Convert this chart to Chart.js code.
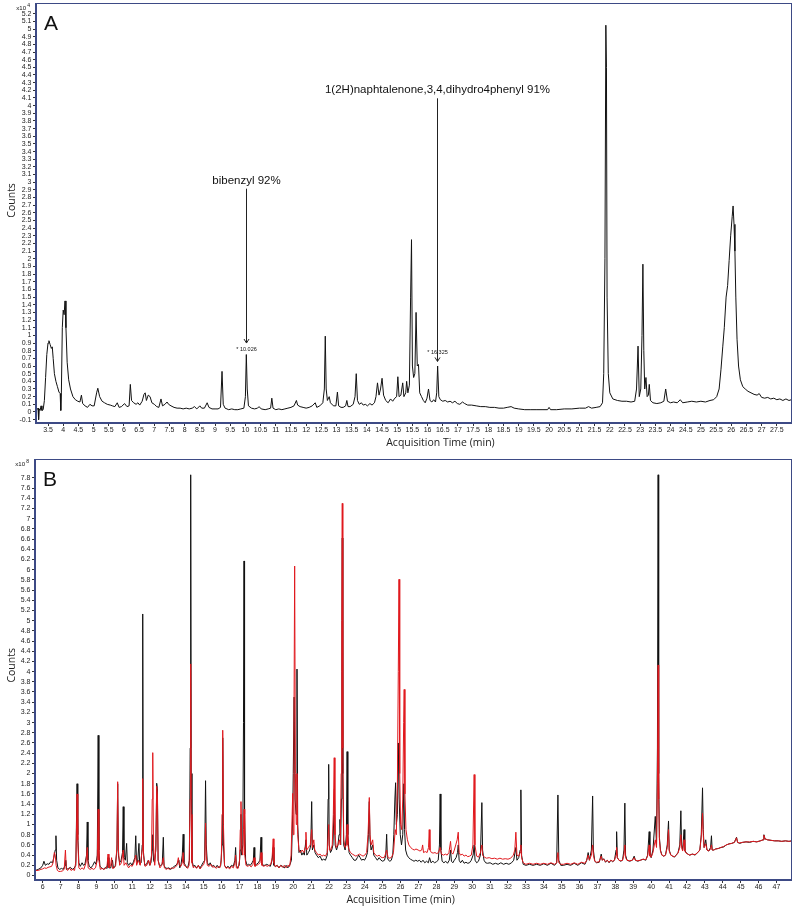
<!DOCTYPE html>
<html>
<head>
<meta charset="utf-8">
<title>GC-MS chromatograms A and B</title>
<script src="https://cdn.jsdelivr.net/npm/chart.js@4.4.0/dist/chart.umd.min.js"></script>
<style>
  html, body { margin: 0; padding: 0; background: #fff; }
  #wrap { position: relative; width: 795px; height: 906px; }
  canvas { position: absolute; left: 0; }
  #chart-a { top: 0; }
  #chart-b { top: 452px; }
</style>
</head>
<body>
<div id="wrap">
  <canvas id="chart-a" width="795" height="452"></canvas>
  <canvas id="chart-b" width="795" height="454"></canvas>
</div>
<script>
// ** Data (counts in units of the axis multiplier, time in min)

// panel A: single trace, x10^4 counts
const traceA = [
  [3.14,0.03],[3.17,0.05],[3.19,-0.1],[3.21,0.04],[3.24,0.02],[3.27,0.08],[3.3,0.02],[3.34,0.03],
  [3.38,0.15],[3.42,0.45],[3.46,0.75],[3.5,0.9],[3.53,0.93],[3.57,0.88],[3.61,0.83],[3.64,0.85],
  [3.67,0.7],[3.71,0.5],[3.76,0.4],[3.81,0.33],[3.86,0.26],[3.9,0.24],[3.92,0.02],[3.94,0.26],
  [3.97,1.1],[4.0,1.33],[4.03,1.27],[4.06,1.45],[4.09,1.1],[4.13,0.65],[4.18,0.42],[4.24,0.3],
  [4.32,0.2],[4.4,0.16],[4.48,0.14],[4.55,0.13],[4.6,0.22],[4.64,0.11],[4.72,0.08],[4.8,0.06],
  [4.88,0.1],[4.95,0.08],[5.02,0.08],[5.1,0.25],[5.14,0.31],[5.2,0.2],[5.28,0.14],[5.36,0.12],
  [5.45,0.1],[5.55,0.09],[5.62,0.08],[5.7,0.07],[5.78,0.12],[5.84,0.06],[5.92,0.07],[6.02,0.11],
  [6.1,0.07],[6.17,0.08],[6.21,0.36],[6.25,0.15],[6.32,0.12],[6.4,0.1],[6.46,0.12],[6.52,0.09],
  [6.6,0.14],[6.66,0.23],[6.7,0.25],[6.74,0.15],[6.8,0.22],[6.86,0.2],[6.92,0.12],[7.0,0.1],
  [7.08,0.07],[7.15,0.06],[7.22,0.17],[7.27,0.08],[7.35,0.1],[7.42,0.13],[7.47,0.1],[7.55,0.08],
  [7.65,0.06],[7.75,0.05],[7.85,0.05],[7.95,0.04],[8.05,0.05],[8.15,0.04],[8.25,0.05],[8.32,0.07],
  [8.4,0.04],[8.5,0.08],[8.56,0.05],[8.65,0.05],[8.74,0.12],[8.8,0.06],[8.9,0.04],[9.0,0.04],
  [9.1,0.04],[9.18,0.06],[9.23,0.53],[9.27,0.1],[9.33,0.05],[9.45,0.03],[9.55,0.04],[9.65,0.03],
  [9.75,0.03],[9.85,0.04],[9.95,0.05],[10.0,0.2],[10.03,0.75],[10.06,0.3],[10.1,0.08],[10.2,0.05],
  [10.3,0.04],[10.4,0.05],[10.45,0.07],[10.52,0.04],[10.65,0.03],[10.75,0.04],[10.83,0.05],[10.87,0.18],
  [10.91,0.05],[11.0,0.03],[11.1,0.04],[11.2,0.03],[11.3,0.04],[11.4,0.05],[11.5,0.06],[11.6,0.08],
  [11.68,0.15],[11.72,0.09],[11.8,0.07],[11.9,0.06],[12.0,0.05],[12.1,0.06],[12.2,0.08],[12.3,0.12],
  [12.35,0.06],[12.45,0.08],[12.55,0.12],[12.6,0.3],[12.63,0.99],[12.66,0.3],[12.7,0.15],[12.76,0.2],
  [12.8,0.12],[12.9,0.08],[12.98,0.08],[13.03,0.26],[13.07,0.08],[13.15,0.06],[13.22,0.06],[13.3,0.08],
  [13.34,0.15],[13.38,0.07],[13.45,0.07],[13.55,0.1],[13.61,0.2],[13.65,0.5],[13.69,0.15],[13.75,0.1],
  [13.82,0.12],[13.88,0.09],[13.95,0.1],[14.02,0.08],[14.1,0.11],[14.17,0.09],[14.25,0.12],[14.3,0.2],
  [14.35,0.38],[14.4,0.22],[14.45,0.3],[14.5,0.44],[14.55,0.22],[14.62,0.15],[14.7,0.12],[14.78,0.17],
  [14.85,0.14],[14.92,0.18],[14.98,0.2],[15.02,0.46],[15.06,0.2],[15.12,0.22],[15.18,0.38],[15.22,0.2],
  [15.28,0.25],[15.31,0.4],[15.35,0.25],[15.4,0.35],[15.44,1.5],[15.47,2.25],[15.5,0.6],[15.54,0.45],
  [15.58,0.5],[15.62,1.3],[15.66,0.6],[15.7,0.62],[15.74,0.25],[15.8,0.2],[15.86,0.15],[15.92,0.12],
  [15.98,0.18],[16.03,0.3],[16.08,0.15],[16.14,0.13],[16.2,0.16],[16.26,0.13],[16.3,0.25],[16.33,0.6],
  [16.37,0.2],[16.42,0.16],[16.5,0.14],[16.58,0.15],[16.66,0.13],[16.74,0.14],[16.82,0.12],[16.9,0.14],
  [16.98,0.11],[17.06,0.1],[17.15,0.13],[17.22,0.11],[17.32,0.09],[17.45,0.09],[17.6,0.08],[17.75,0.07],
  [17.9,0.07],[18.05,0.06],[18.2,0.06],[18.35,0.05],[18.5,0.05],[18.62,0.06],[18.75,0.07],[18.85,0.05],
  [19.0,0.04],[19.2,0.03],[19.4,0.03],[19.6,0.03],[19.8,0.03],[19.95,0.03],[20.0,0.06],[20.05,0.03],
  [20.25,0.03],[20.5,0.04],[20.75,0.04],[21.0,0.05],[21.2,0.05],[21.3,0.07],[21.4,0.05],[21.55,0.06],
  [21.68,0.07],[21.76,0.12],[21.8,0.5],[21.84,2.0],[21.87,5.05],[21.89,4.5],[21.91,1.5],[21.95,0.5],
  [22.0,0.25],[22.1,0.17],[22.25,0.15],[22.4,0.14],[22.55,0.14],[22.7,0.13],[22.82,0.14],[22.88,0.3],
  [22.93,0.86],[22.97,0.2],[23.02,0.3],[23.06,1.0],[23.09,1.93],[23.12,0.8],[23.15,0.3],[23.19,0.45],
  [23.23,0.2],[23.27,0.22],[23.3,0.36],[23.34,0.15],[23.42,0.12],[23.55,0.11],[23.68,0.12],[23.78,0.14],
  [23.84,0.3],[23.9,0.14],[24.0,0.12],[24.1,0.13],[24.22,0.12],[24.32,0.16],[24.4,0.12],[24.55,0.13],
  [24.7,0.14],[24.85,0.13],[25.0,0.14],[25.15,0.13],[25.3,0.15],[25.42,0.16],[25.52,0.2],[25.6,0.3],
  [25.66,0.55],[25.72,0.85],[25.77,1.1],[25.83,1.5],[25.88,1.65],[25.93,1.98],[25.98,2.3],[26.03,2.55],
  [26.06,2.69],[26.09,2.45],[26.12,2.1],[26.15,1.5],[26.19,0.95],[26.24,0.6],[26.3,0.42],[26.38,0.33],
  [26.46,0.3],[26.55,0.27],[26.65,0.25],[26.75,0.23],[26.85,0.22],[26.92,0.24],[27.0,0.19],[27.1,0.18],
  [27.2,0.19],[27.3,0.17],[27.4,0.18],[27.5,0.16],[27.6,0.17],[27.7,0.15],[27.8,0.17],[27.9,0.15],
  [27.98,0.16]
];

// panel B: black trace, x10^8 counts
const traceBblack = [
  [5.6,0.1],[5.75,0.12],[5.9,0.15],[6.0,0.2],[6.07,0.28],[6.15,0.2],[6.25,0.23],[6.35,0.22],
  [6.45,0.27],[6.55,0.25],[6.62,0.35],[6.7,0.5],[6.74,0.78],[6.78,0.3],[6.85,0.15],[6.95,0.12],
  [7.05,0.14],[7.15,0.12],[7.25,0.2],[7.29,0.3],[7.33,0.12],[7.45,0.14],[7.55,0.16],[7.65,0.12],
  [7.75,0.14],[7.85,0.2],[7.92,1.8],[7.96,0.8],[8.02,0.25],[8.1,0.18],[8.2,0.25],[8.28,0.2],
  [8.36,0.22],[8.45,0.4],[8.49,1.05],[8.53,0.3],[8.6,0.18],[8.7,0.15],[8.8,0.2],[8.9,0.27],
  [8.98,0.22],[9.05,0.4],[9.1,2.75],[9.14,0.5],[9.2,0.18],[9.3,0.15],[9.4,0.12],[9.5,0.16],
  [9.6,0.14],[9.65,0.35],[9.7,0.15],[9.8,0.15],[9.9,0.3],[9.95,0.15],[10.05,0.18],[10.15,0.5],
  [10.19,1.8],[10.23,0.4],[10.3,0.25],[10.38,0.3],[10.46,0.45],[10.5,1.35],[10.54,0.35],[10.62,0.3],
  [10.69,0.63],[10.73,0.25],[10.8,0.2],[10.9,0.25],[11.0,0.2],[11.08,0.28],[11.15,0.35],[11.2,0.78],
  [11.24,0.3],[11.3,0.25],[11.38,0.63],[11.42,0.22],[11.5,0.25],[11.56,0.6],[11.59,5.13],[11.62,0.5],
  [11.7,0.2],[11.8,0.22],[11.9,0.3],[11.98,0.2],[12.05,0.25],[12.12,0.5],[12.15,0.8],[12.19,0.3],
  [12.25,0.25],[12.32,0.5],[12.37,1.81],[12.41,1.7],[12.45,0.3],[12.52,0.2],[12.6,0.2],[12.68,0.22],
  [12.74,0.75],[12.78,0.2],[12.85,0.15],[12.95,0.14],[13.05,0.15],[13.15,0.12],[13.25,0.15],[13.35,0.18],
  [13.45,0.2],[13.55,0.25],[13.61,0.3],[13.66,0.15],[13.73,0.22],[13.8,0.4],[13.85,0.81],[13.89,0.25],
  [13.98,0.2],[14.05,0.15],[14.12,0.18],[14.2,0.3],[14.24,2.5],[14.27,7.86],[14.3,2.0],[14.34,0.3],
  [14.42,0.18],[14.5,0.2],[14.6,0.15],[14.7,0.2],[14.78,0.14],[14.88,0.2],[14.96,0.25],[15.05,0.3],
  [15.1,1.86],[15.14,0.6],[15.2,0.25],[15.28,0.2],[15.36,0.25],[15.45,0.18],[15.55,0.2],[15.65,0.15],
  [15.75,0.2],[15.85,0.15],[15.95,0.2],[16.02,0.6],[16.06,2.7],[16.1,0.6],[16.16,0.2],[16.25,0.15],
  [16.35,0.18],[16.45,0.15],[16.55,0.2],[16.65,0.18],[16.74,0.3],[16.78,0.55],[16.82,0.2],[16.9,0.15],
  [16.98,0.2],[17.04,0.5],[17.08,1.2],[17.12,0.4],[17.18,0.6],[17.22,3.0],[17.25,6.17],[17.28,1.2],
  [17.34,0.3],[17.42,0.2],[17.5,0.22],[17.6,0.2],[17.7,0.25],[17.77,0.3],[17.81,0.55],[17.85,0.2],
  [17.95,0.22],[18.05,0.25],[18.14,0.3],[18.2,0.75],[18.24,0.25],[18.32,0.2],[18.42,0.2],[18.52,0.22],
  [18.62,0.2],[18.72,0.18],[18.82,0.3],[18.88,0.55],[18.92,0.2],[19.0,0.18],[19.1,0.2],[19.2,0.15],
  [19.3,0.2],[19.4,0.18],[19.5,0.15],[19.6,0.2],[19.7,0.15],[19.8,0.2],[19.9,0.3],[19.97,1.2],
  [20.0,2.0],[20.05,3.5],[20.1,1.5],[20.16,1.2],[20.21,4.05],[20.25,1.0],[20.32,0.45],[20.4,0.5],
  [20.48,0.4],[20.56,0.45],[20.62,0.4],[20.71,0.7],[20.76,0.4],[20.85,0.45],[20.92,0.5],[20.98,0.6],
  [21.03,1.45],[21.07,0.5],[21.15,0.6],[21.22,0.45],[21.3,0.4],[21.4,0.35],[21.5,0.38],[21.6,0.3],
  [21.7,0.32],[21.8,0.3],[21.9,0.4],[21.95,1.5],[21.98,2.18],[22.01,0.6],[22.08,0.45],[22.15,0.5],
  [22.22,0.6],[22.27,1.2],[22.3,1.7],[22.34,0.6],[22.42,0.5],[22.5,0.6],[22.56,0.8],[22.61,1.1],
  [22.65,0.6],[22.69,1.5],[22.72,4.0],[22.74,6.62],[22.77,2.0],[22.82,0.6],[22.9,0.5],[22.97,0.8],
  [23.01,2.43],[23.05,0.8],[23.12,0.45],[23.2,0.4],[23.3,0.35],[23.4,0.3],[23.5,0.3],[23.58,0.35],
  [23.66,0.4],[23.74,0.35],[23.82,0.3],[23.9,0.32],[23.98,0.3],[24.06,0.35],[24.15,0.45],[24.2,0.8],
  [24.25,1.45],[24.29,0.7],[24.35,0.5],[24.44,0.6],[24.5,0.4],[24.6,0.35],[24.7,0.3],[24.8,0.35],
  [24.9,0.3],[25.0,0.28],[25.1,0.3],[25.17,0.4],[25.22,0.81],[25.26,0.35],[25.32,0.3],[25.4,0.28],
  [25.48,0.3],[25.56,0.4],[25.62,0.8],[25.68,1.5],[25.72,1.82],[25.76,1.0],[25.82,1.2],[25.87,2.6],
  [25.92,1.5],[25.98,0.8],[26.05,0.6],[26.12,0.8],[26.18,1.8],[26.22,0.9],[26.28,0.5],[26.36,0.4],
  [26.45,0.35],[26.55,0.32],[26.65,0.3],[26.75,0.28],[26.85,0.3],[26.95,0.28],[27.05,0.3],[27.15,0.26],
  [27.25,0.3],[27.35,0.25],[27.45,0.28],[27.55,0.25],[27.62,0.35],[27.7,0.25],[27.8,0.28],[27.9,0.25],
  [28.0,0.27],[28.1,0.3],[28.17,0.6],[28.21,1.6],[28.25,0.5],[28.32,0.28],[28.42,0.25],[28.52,0.28],
  [28.62,0.24],[28.72,0.3],[28.79,0.5],[28.84,0.28],[28.92,0.25],[29.0,0.3],[29.1,0.35],[29.18,0.45],
  [29.22,0.6],[29.27,0.3],[29.35,0.25],[29.45,0.3],[29.55,0.24],[29.65,0.26],[29.75,0.24],[29.85,0.25],
  [29.95,0.3],[30.05,0.4],[30.11,0.6],[30.16,0.3],[30.25,0.25],[30.35,0.28],[30.46,0.4],[30.54,1.43],
  [30.58,0.5],[30.66,0.3],[30.75,0.25],[30.85,0.24],[31.0,0.25],[31.15,0.22],[31.3,0.24],[31.45,0.22],
  [31.6,0.25],[31.75,0.22],[31.9,0.24],[32.05,0.22],[32.2,0.25],[32.32,0.3],[32.44,0.55],[32.5,0.3],
  [32.6,0.35],[32.68,0.5],[32.72,1.68],[32.76,0.4],[32.85,0.22],[33.0,0.2],[33.2,0.22],[33.4,0.2],
  [33.6,0.22],[33.8,0.2],[34.0,0.23],[34.2,0.2],[34.4,0.24],[34.6,0.2],[34.72,0.25],[34.79,1.58],
  [34.84,0.3],[34.95,0.2],[35.1,0.2],[35.3,0.22],[35.5,0.2],[35.7,0.24],[35.9,0.2],[36.1,0.25],
  [36.3,0.22],[36.4,0.3],[36.48,0.45],[36.55,0.3],[36.66,0.5],[36.73,1.56],[36.77,0.5],[36.85,0.28],
  [36.95,0.25],[37.1,0.26],[37.21,0.42],[37.27,0.3],[37.35,0.33],[37.45,0.26],[37.55,0.3],[37.65,0.25],
  [37.75,0.3],[37.85,0.27],[37.95,0.3],[38.04,0.5],[38.07,0.86],[38.11,0.35],[38.2,0.3],[38.3,0.28],
  [38.4,0.3],[38.48,0.5],[38.53,1.42],[38.57,0.4],[38.65,0.3],[38.8,0.28],[38.95,0.3],[39.05,0.38],
  [39.12,0.3],[39.25,0.28],[39.4,0.3],[39.55,0.32],[39.7,0.3],[39.8,0.4],[39.89,0.86],[39.93,0.4],
  [40.0,0.35],[40.1,0.5],[40.23,1.16],[40.3,0.6],[40.35,2.5],[40.39,7.86],[40.42,2.0],[40.46,0.75],
  [40.52,0.5],[40.6,0.4],[40.7,0.38],[40.8,0.4],[40.9,0.6],[40.97,1.07],[41.01,0.5],[41.1,0.4],
  [41.2,0.38],[41.3,0.36],[41.4,0.4],[41.5,0.45],[41.6,0.6],[41.66,1.27],[41.7,0.6],[41.76,0.5],
  [41.84,0.9],[41.88,0.5],[41.95,0.45],[42.05,0.42],[42.15,0.4],[42.3,0.42],[42.45,0.4],[42.6,0.45],
  [42.72,0.5],[42.8,0.8],[42.87,1.72],[42.91,0.9],[42.96,0.55],[43.05,0.7],[43.12,0.5],[43.22,0.48],
  [43.32,0.55],[43.37,0.78],[43.41,0.5],[43.5,0.5],[43.6,0.52],[43.75,0.53],[43.9,0.55],[44.05,0.56],
  [44.2,0.6],[44.35,0.62],[44.5,0.63],[44.65,0.65],[44.77,0.75],[44.83,0.65],[44.95,0.63],[45.1,0.65],
  [45.3,0.66],[45.5,0.65],[45.7,0.67],[45.9,0.66],[46.1,0.68],[46.25,0.7],[46.3,0.8],[46.36,0.72],
  [46.5,0.7],[46.7,0.69],[46.9,0.68],[47.1,0.68],[47.3,0.67],[47.5,0.68],[47.7,0.67],[47.87,0.68]
];

// panel B: red trace, x10^8 counts
const traceBred = [
  [5.6,0.1],[5.75,0.1],[5.9,0.12],[6.0,0.13],[6.1,0.15],[6.2,0.14],[6.3,0.16],[6.4,0.17],
  [6.5,0.18],[6.58,0.25],[6.65,0.45],[6.7,0.4],[6.75,0.2],[6.82,0.1],[6.9,0.08],[7.0,0.08],
  [7.1,0.09],[7.2,0.12],[7.27,0.5],[7.32,0.12],[7.4,0.1],[7.5,0.15],[7.58,0.1],[7.68,0.12],
  [7.78,0.1],[7.86,0.3],[7.92,1.6],[7.96,0.7],[8.02,0.15],[8.1,0.12],[8.2,0.15],[8.3,0.12],
  [8.42,0.25],[8.49,0.55],[8.54,0.15],[8.65,0.12],[8.75,0.14],[8.85,0.12],[8.95,0.15],[9.05,0.3],
  [9.1,1.3],[9.14,0.3],[9.22,0.12],[9.32,0.14],[9.42,0.12],[9.52,0.14],[9.6,0.2],[9.65,0.42],
  [9.7,0.15],[9.8,0.2],[9.85,0.35],[9.9,0.14],[10.0,0.15],[10.08,0.2],[10.15,0.6],[10.19,1.84],
  [10.23,0.5],[10.3,0.2],[10.4,0.25],[10.5,0.5],[10.55,0.2],[10.65,0.25],[10.72,0.2],[10.8,0.15],
  [10.9,0.2],[11.0,0.18],[11.1,0.25],[11.2,0.4],[11.25,0.2],[11.35,0.3],[11.45,0.2],[11.56,0.5],
  [11.59,1.9],[11.63,0.4],[11.72,0.18],[11.82,0.2],[11.92,0.3],[12.0,0.2],[12.08,0.4],[12.12,1.5],
  [12.15,2.41],[12.19,0.6],[12.26,0.2],[12.33,0.6],[12.37,1.75],[12.41,1.6],[12.45,0.3],[12.55,0.15],
  [12.65,0.2],[12.74,0.35],[12.8,0.15],[12.9,0.12],[13.0,0.14],[13.1,0.12],[13.2,0.15],[13.3,0.14],
  [13.4,0.16],[13.5,0.2],[13.58,0.35],[13.64,0.2],[13.72,0.18],[13.8,0.25],[13.85,0.45],[13.9,0.2],
  [14.0,0.18],[14.1,0.14],[14.18,0.2],[14.24,1.5],[14.27,4.15],[14.3,1.2],[14.34,0.25],[14.42,0.15],
  [14.5,0.18],[14.6,0.14],[14.7,0.2],[14.8,0.13],[14.9,0.18],[15.0,0.22],[15.06,0.3],[15.1,1.03],
  [15.14,0.4],[15.2,0.2],[15.3,0.18],[15.4,0.22],[15.5,0.16],[15.6,0.18],[15.7,0.14],[15.8,0.18],
  [15.9,0.15],[15.98,0.3],[16.02,1.2],[16.06,2.85],[16.1,1.0],[16.16,0.2],[16.25,0.14],[16.35,0.16],
  [16.45,0.13],[16.55,0.18],[16.65,0.15],[16.74,0.25],[16.78,0.4],[16.82,0.15],[16.92,0.14],[17.0,0.3],
  [17.04,0.9],[17.08,1.45],[17.12,0.5],[17.18,0.4],[17.22,0.9],[17.25,1.3],[17.29,0.4],[17.36,0.2],
  [17.45,0.18],[17.55,0.2],[17.65,0.17],[17.75,0.22],[17.81,0.35],[17.86,0.18],[17.96,0.2],[18.06,0.22],
  [18.14,0.25],[18.2,0.45],[18.25,0.2],[18.35,0.18],[18.45,0.2],[18.55,0.18],[18.65,0.2],[18.75,0.22],
  [18.82,0.35],[18.88,0.72],[18.92,0.25],[19.0,0.17],[19.1,0.2],[19.2,0.15],[19.3,0.2],[19.4,0.16],
  [19.5,0.2],[19.6,0.15],[19.7,0.2],[19.8,0.18],[19.88,0.4],[19.97,1.61],[20.0,0.8],[20.04,3.0],
  [20.08,6.07],[20.12,2.0],[20.17,1.0],[20.21,2.0],[20.25,0.8],[20.32,0.5],[20.4,0.45],[20.5,0.5],
  [20.6,0.45],[20.66,0.55],[20.71,0.85],[20.75,0.5],[20.85,0.55],[20.95,0.6],[21.03,0.9],[21.07,0.55],
  [21.15,0.7],[21.2,0.5],[21.3,0.45],[21.4,0.4],[21.5,0.42],[21.6,0.38],[21.7,0.4],[21.8,0.38],
  [21.9,0.45],[21.98,1.0],[22.02,0.5],[22.1,0.5],[22.18,0.6],[22.24,1.2],[22.29,2.31],[22.33,0.8],
  [22.4,0.55],[22.5,0.6],[22.58,0.7],[22.63,0.6],[22.68,2.0],[22.71,5.0],[22.74,7.3],[22.77,2.5],
  [22.82,0.7],[22.9,0.55],[22.97,0.6],[23.01,1.0],[23.05,0.6],[23.12,0.5],[23.2,0.45],[23.3,0.42],
  [23.4,0.4],[23.5,0.38],[23.6,0.4],[23.7,0.42],[23.8,0.4],[23.9,0.38],[24.0,0.4],[24.1,0.45],
  [24.18,0.8],[24.25,1.53],[24.29,0.8],[24.35,0.6],[24.44,0.7],[24.5,0.45],[24.6,0.4],[24.7,0.38],
  [24.8,0.4],[24.9,0.36],[25.0,0.35],[25.1,0.36],[25.22,0.5],[25.3,0.35],[25.4,0.34],[25.5,0.36],
  [25.6,0.45],[25.7,0.9],[25.76,0.8],[25.82,1.8],[25.87,4.0],[25.91,5.81],[25.95,2.0],[26.0,1.0],
  [26.06,0.9],[26.12,1.5],[26.17,3.0],[26.2,3.65],[26.24,1.6],[26.3,0.9],[26.38,0.7],[26.46,0.6],
  [26.56,0.55],[26.66,0.52],[26.76,0.5],[26.86,0.52],[26.98,0.5],[27.08,0.48],[27.18,0.5],[27.23,0.6],
  [27.28,0.45],[27.38,0.47],[27.48,0.45],[27.56,0.55],[27.6,0.9],[27.64,0.5],[27.72,0.45],[27.82,0.44],
  [27.92,0.45],[28.02,0.43],[28.12,0.45],[28.21,0.55],[28.28,0.42],[28.4,0.4],[28.5,0.42],[28.6,0.4],
  [28.7,0.45],[28.79,0.67],[28.84,0.45],[28.92,0.42],[29.0,0.5],[29.08,0.6],[29.16,0.7],[29.22,0.85],
  [29.27,0.45],[29.35,0.4],[29.45,0.42],[29.55,0.38],[29.65,0.4],[29.75,0.37],[29.85,0.38],[29.95,0.4],
  [30.04,0.6],[30.11,1.98],[30.15,0.6],[30.25,0.38],[30.35,0.36],[30.46,0.45],[30.54,0.6],[30.58,0.4],
  [30.68,0.36],[30.8,0.34],[30.95,0.35],[31.1,0.33],[31.25,0.34],[31.4,0.32],[31.55,0.34],[31.7,0.32],
  [31.85,0.33],[32.0,0.32],[32.15,0.34],[32.3,0.4],[32.38,0.5],[32.44,0.85],[32.5,0.4],[32.6,0.38],
  [32.68,0.45],[32.72,0.6],[32.76,0.35],[32.85,0.25],[33.0,0.22],[33.2,0.24],[33.4,0.22],[33.6,0.24],
  [33.8,0.22],[34.0,0.24],[34.2,0.22],[34.4,0.25],[34.6,0.22],[34.72,0.25],[34.79,0.45],[34.84,0.25],
  [34.95,0.22],[35.1,0.22],[35.3,0.24],[35.5,0.22],[35.7,0.25],[35.9,0.22],[36.1,0.26],[36.3,0.24],
  [36.4,0.3],[36.48,0.4],[36.55,0.3],[36.66,0.4],[36.73,0.6],[36.77,0.4],[36.85,0.28],[36.95,0.26],
  [37.1,0.27],[37.21,0.38],[37.27,0.3],[37.35,0.32],[37.45,0.27],[37.55,0.3],[37.65,0.26],[37.75,0.3],
  [37.85,0.28],[37.95,0.3],[38.04,0.4],[38.07,0.55],[38.11,0.35],[38.2,0.3],[38.3,0.29],[38.4,0.3],
  [38.48,0.4],[38.53,0.6],[38.57,0.35],[38.65,0.3],[38.8,0.29],[38.95,0.3],[39.05,0.35],[39.12,0.3],
  [39.25,0.29],[39.4,0.3],[39.55,0.32],[39.7,0.31],[39.8,0.38],[39.89,0.6],[39.93,0.38],[40.0,0.36],
  [40.1,0.45],[40.23,0.7],[40.3,0.55],[40.35,1.8],[40.39,4.13],[40.42,1.5],[40.46,0.7],[40.52,0.48],
  [40.6,0.4],[40.7,0.38],[40.8,0.4],[40.9,0.55],[40.97,0.9],[41.01,0.48],[41.1,0.4],[41.2,0.38],
  [41.3,0.37],[41.4,0.4],[41.5,0.44],[41.6,0.55],[41.66,0.8],[41.7,0.55],[41.76,0.48],[41.84,0.7],
  [41.88,0.48],[41.95,0.44],[42.05,0.42],[42.15,0.4],[42.3,0.42],[42.45,0.41],[42.6,0.45],[42.72,0.5],
  [42.8,0.75],[42.87,1.22],[42.91,0.8],[42.96,0.55],[43.05,0.62],[43.12,0.5],[43.22,0.48],[43.32,0.52],
  [43.37,0.6],[43.41,0.5],[43.5,0.5],[43.6,0.52],[43.75,0.53],[43.9,0.55],[44.05,0.57],[44.2,0.6],
  [44.35,0.62],[44.5,0.63],[44.65,0.65],[44.77,0.74],[44.83,0.65],[44.95,0.64],[45.1,0.65],[45.3,0.66],
  [45.5,0.66],[45.7,0.67],[45.9,0.66],[46.1,0.68],[46.25,0.7],[46.3,0.79],[46.36,0.72],[46.5,0.7],
  [46.7,0.69],[46.9,0.68],[47.1,0.68],[47.3,0.67],[47.5,0.68],[47.7,0.67],[47.87,0.68]
];

// labelled compounds in A (retention time, label)
const compoundsA = [
  { time: 10.026, name: 'bibenzyl 92%', tag: '* 10.026', textAt: 3.02, tipAt: 0.9, tagAt: 0.82 },
  { time: 16.325, name: '1(2H)naphtalenone,3,4,dihydro4phenyl 91%', tag: '* 16.325', textAt: 4.2, tipAt: 0.66, tagAt: 0.78 }
];

// ** Helpers

function toPoints(trace) {
  return trace.map(p => ({ x: p[0], y: p[1] }));
}

function fmt(v) {
  return String(Math.round(v * 10) / 10);
}

const FONT = '"Liberation Sans", Arial, sans-serif';

// frame, panel letter, multiplier, axis titles, arrows
const decor = {
  id: 'decor',
  afterDraw(chart, args, o) {
    const { ctx, chartArea: a, scales } = chart;
    ctx.save();

    ctx.strokeStyle = '#3d4a85';
    ctx.lineWidth = 1;
    ctx.strokeRect(a.left + 0.5, a.top + 0.5, a.right - a.left - 1, a.bottom - a.top - 1);
    ctx.lineWidth = 2;
    ctx.beginPath();
    ctx.moveTo(a.left, a.top);
    ctx.lineTo(a.left, a.bottom);
    ctx.lineTo(a.right, a.bottom);
    ctx.stroke();

    ctx.fillStyle = '#111';
    ctx.textBaseline = 'middle';
    ctx.textAlign = 'left';
    ctx.font = '21px ' + FONT;
    ctx.fillText(o.letter, a.left + 8, a.top + 21);

    ctx.font = '6px ' + FONT;
    ctx.textAlign = 'right';
    ctx.fillText('x10', a.left - 10, a.top + 5);
    ctx.font = '5px ' + FONT;
    ctx.fillText(o.power, a.left - 6, a.top + 3);

    ctx.fillStyle = '#222';
    ctx.textAlign = 'center';
    ctx.font = '10.5px "Open Sans", ' + FONT;
    ctx.fillText('Acquisition Time (min)', a.left + o.xTitleAt * (a.right - a.left), a.bottom + 20);

    ctx.save();
    ctx.translate(12, a.top + o.yTitleAt * (a.bottom - a.top));
    ctx.rotate(-Math.PI / 2);
    ctx.fillText('Counts', 0, 0);
    ctx.restore();

    (o.notes || []).forEach(n => {
      const x = Math.round(scales.x.getPixelForValue(n.time)) + 0.5;
      const yText = scales.y.getPixelForValue(n.textAt);
      const yTip = scales.y.getPixelForValue(n.tipAt);
      const yTag = scales.y.getPixelForValue(n.tagAt);
      ctx.fillStyle = '#111';
      ctx.font = '11.5px ' + FONT;
      ctx.fillText(n.name, x, yText);
      ctx.strokeStyle = '#222';
      ctx.lineWidth = 1;
      ctx.beginPath();
      ctx.moveTo(x, yText + 8);
      ctx.lineTo(x, yTip);
      ctx.moveTo(x - 2.5, yTip - 4);
      ctx.lineTo(x, yTip);
      ctx.lineTo(x + 2.5, yTip - 4);
      ctx.stroke();
      ctx.font = '5.5px ' + FONT;
      ctx.fillText(n.tag, x, yTag);
    });

    ctx.restore();
  }
};

function makeChart(id, datasets, cfg) {
  const tickFont = { family: FONT, size: 7 };
  const grid = { drawOnChartArea: false, drawTicks: true, tickLength: 3, tickColor: '#333', color: '#333' };
  return new Chart(document.getElementById(id), {
    type: 'line',
    data: { datasets: datasets },
    options: {
      responsive: false,
      animation: false,
      devicePixelRatio: 1,
      layout: { padding: { top: cfg.top, right: cfg.right, left: 0, bottom: 0 } },
      elements: { point: { radius: 0 }, line: { borderWidth: 1, tension: 0 } },
      plugins: { legend: { display: false }, tooltip: { enabled: false }, decor: cfg.decor },
      scales: {
        x: {
          type: 'linear', min: cfg.xMin, max: cfg.xMax,
          grid: grid, border: { display: false },
          ticks: { stepSize: cfg.xStep, autoSkip: false, maxRotation: 0, padding: 0, includeBounds: false,
                   maxTicksLimit: 1000, font: tickFont, color: '#222', callback: fmt },
          afterBuildTicks(s) { s.ticks = s.ticks.filter(t => t.value <= cfg.xLast + 1e-9); },
          afterFit(s) { s.height = cfg.xHeight; s.paddingLeft = 0; s.paddingRight = 0; }
        },
        y: {
          min: cfg.yMin, max: cfg.yMax,
          grid: grid, border: { display: false },
          ticks: { stepSize: cfg.yStep, autoSkip: false, padding: 1.5, includeBounds: false,
                   maxTicksLimit: 1000, font: tickFont, color: '#222', callback: fmt },
          afterBuildTicks(s) { s.ticks = s.ticks.filter(t => t.value <= cfg.yLast + 1e-9); },
          afterFit(s) { s.width = cfg.yWidth; s.paddingTop = 0; s.paddingBottom = 0; }
        }
      }
    },
    plugins: [decor]
  });
}

// ** Charts

makeChart('chart-a', [
  { data: toPoints(traceA), borderColor: '#111', borderWidth: 1 }
], {
  top: 3, right: 3, xHeight: 29, yWidth: 36,
  xMin: 3.104, xMax: 28.0, xStep: 0.5, xLast: 27.5,
  yMin: -0.144, yMax: 5.34, yStep: 0.1, yLast: 5.2,
  decor: { letter: 'A', power: '4', xTitleAt: 0.535, yTitleAt: 0.47, notes: compoundsA }
});

makeChart('chart-b', [
  { data: toPoints(traceBred), borderColor: '#e0181d', borderWidth: 1 },
  { data: toPoints(traceBblack), borderColor: '#111', borderWidth: 1 }
], {
  top: 7, right: 3, xHeight: 26, yWidth: 35,
  xMin: 5.57, xMax: 47.87, xStep: 1, xLast: 47,
  yMin: -0.088, yMax: 8.17, yStep: 0.2, yLast: 7.8,
  decor: { letter: 'B', power: '8', xTitleAt: 0.483, yTitleAt: 0.49 }
});
</script>
</body>
</html>
